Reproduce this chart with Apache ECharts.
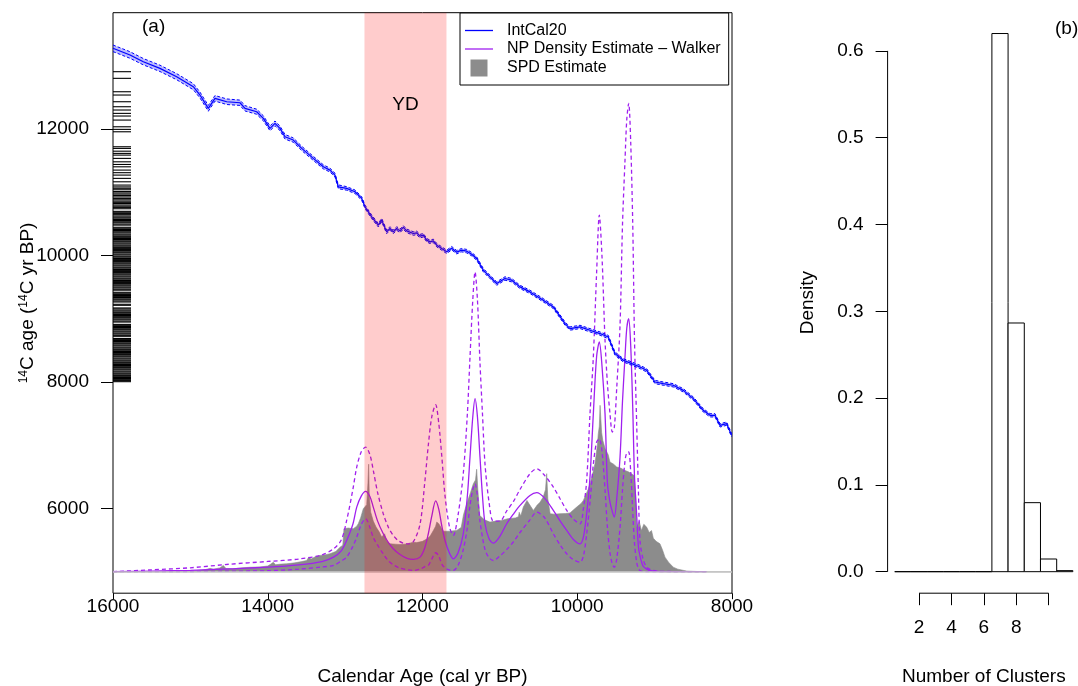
<!DOCTYPE html>
<html><head><meta charset="utf-8">
<script src="https://cdn.jsdelivr.net/npm/echarts@6/dist/echarts.min.js"></script>
<style>html,body{margin:0;padding:0;background:#fff}#c{width:1078px;height:686px}</style>
</head><body><div id="c"></div>
<script>
// ---------- Panel (a) data ----------
const calAge = [16000,15780,15608,15393,15177,14962,14876,14768,14682,14530,14359,14294,14143,14057,13971,13906,13842,13777,13670,13561,13411,13282,13196,13131,13088,12980,12872,12786,12743,12657,12571,12527,12463,12420,12377,12334,12291,12248,12204,12119,12075,12032,11989,11946,11903,11860,11816,11752,11687,11623,11558,11494,11429,11364,11300,11214,11128,11041,10934,10847,10740,10611,10439,10309,10158,10094,9964,9835,9706,9599,9512,9405,9296,9189,9103,8995,8888,8759,8629,8500,8371,8284,8220,8155,8069,8004];
const c14Age = [13277,13171,13065,12960,12828,12670,12538,12328,12486,12432,12416,12328,12274,12170,12011,12090,12011,11878,11826,11694,11536,11403,11351,11272,11087,11061,11008,10903,10770,10612,10480,10560,10374,10428,10374,10428,10390,10444,10390,10348,10358,10306,10322,10243,10216,10232,10164,10111,10058,10116,10053,10085,10069,10021,9953,9768,9662,9557,9637,9610,9504,9425,9293,9187,8924,8845,8871,8818,8766,8712,8449,8343,8291,8238,8185,8000,7974,7948,7868,7737,7552,7473,7473,7314,7341,7156];
const c14Sigma = [52,52,50,50,48,48,46,46,44,44,42,42,40,40,38,38,36,36,34,34,32,32,30,30,30,28,28,28,28,28,28,28,28,28,28,28,28,28,28,28,28,28,28,27,27,27,27,27,27,27,27,27,27,27,27,27,27,27,27,27,26,26,26,26,26,26,26,26,26,26,26,26,26,26,26,26,26,26,26,26,26,26,26,26,26,26];

const npYear  = [16000,15500,15000,14500,14000,13600,13300,13150,13050,12980,12900,12850,12790,12735,12680,12636,12580,12507,12440,12378,12300,12200,12120,12032,11970,11925,11880,11830,11790,11750,11709,11650,11602,11540,11473,11420,11386,11350,11321,11290,11257,11225,11192,11140,11085,11000,10912,10820,10740,10611,10524,10420,10309,10220,10136,10050,9964,9920,9878,9835,9792,9750,9715,9680,9641,9610,9577,9547,9521,9490,9447,9415,9383,9360,9335,9310,9283,9260,9232,9210,9189,9150,9103,9050,8973,8800,8600,8330];
const npMean  = [5000,5010,5022,5045,5072,5108,5160,5230,5330,5494,5750,6022,6200,6270,6190,6022,5800,5600,5460,5364,5280,5210,5195,5230,5380,5600,5880,6120,5990,5720,5494,5290,5204,5300,5600,6200,6813,7450,7737,7450,6813,6200,5758,5520,5451,5560,5758,5920,6048,6206,6249,6160,5969,5800,5652,5510,5441,5550,5917,6500,7500,8400,8633,8250,7500,6400,6100,5950,5864,6150,6813,7700,8396,8850,9003,8600,7600,6500,5900,5400,5250,5090,5040,5015,5005,5001,5000,5000];
const npUpper = [5000,5030,5062,5118,5162,5200,5265,5363,5500,5810,6300,6655,6900,6971,6850,6602,6250,5917,5700,5573,5480,5441,5470,5750,6420,7000,7450,7640,7350,6813,6200,5700,5573,5900,6550,7500,8396,9300,9741,9300,8300,7500,6700,6100,5800,5800,5960,6120,6300,6550,6629,6520,6338,6150,5969,5830,5758,6000,6444,7500,8400,9720,10639,9980,8660,7974,7500,7209,7280,7900,8900,10500,11500,12150,12407,11826,10507,8660,7341,6300,5494,5200,5071,5030,5010,5003,5000,5000];
const npLower = [5000,5000,5003,5008,5016,5040,5075,5100,5170,5230,5400,5547,5750,5838,5700,5540,5420,5280,5170,5110,5060,5030,5020,5040,5080,5100,5200,5300,5250,5120,5060,5025,5020,5100,5350,5700,6050,6300,6391,6200,5800,5547,5350,5220,5177,5250,5350,5480,5620,5820,5943,5850,5600,5420,5283,5190,5150,5250,5600,6100,6700,7050,7100,6900,6300,5700,5300,5120,5071,5200,5700,6300,6750,6880,6894,6600,5950,5450,5150,5050,5020,5005,5000,5000,5000,5000,5000,5000];

const spdYear  = [16000,15200,15000,14900,14800,14746,14700,14620,14574,14540,14450,14350,14229,14100,14000,13960,13928,13900,13830,13755,13650,13560,13497,13470,13440,13380,13325,13250,13196,13120,13066,13030,13015,12960,12894,12850,12830,12800,12765,12740,12721,12705,12696,12688,12670,12636,12600,12560,12527,12490,12460,12420,12350,12291,12200,12119,12075,12000,11940,11903,11860,11830,11816,11790,11760,11730,11709,11650,11558,11500,11470,11429,11380,11343,11315,11300,11285,11260,11200,11128,11050,10980,10900,10800,10760,10750,10730,10697,10650,10600,10567,10520,10481,10440,10410,10395,10380,10350,10300,10223,10150,10094,10007,9950,9921,9860,9835,9790,9771,9740,9728,9715,9705,9697,9685,9670,9640,9600,9577,9530,9490,9440,9383,9340,9300,9265,9245,9232,9200,9170,9140,9103,9070,9040,9017,8980,8931,8900,8866,8820,8759,8700,8586,8450,8300,8000];
const spdLevel = [5000,5000,5008,5020,5035,5053,5040,5060,5100,5050,5045,5060,5070,5075,5090,5120,5150,5110,5120,5125,5140,5160,5177,5230,5200,5240,5257,5270,5283,5320,5388,5420,5680,5690,5680,5720,5758,5850,5996,5990,6060,6400,6700,6200,5944,5800,5705,5630,5547,5600,5480,5441,5435,5430,5440,5467,5460,5480,5520,5560,5650,5720,5784,5760,5700,5640,5625,5640,5652,5700,5900,6075,6250,6391,6450,6620,6300,5890,5820,5784,5800,5810,5838,5850,5870,5940,5880,6022,6127,6030,5969,6050,6100,6180,6300,6550,6150,5917,5910,5917,5920,5930,6022,6080,6127,6300,6391,6600,6708,7000,7183,7300,7631,7604,7200,7077,6950,6850,6734,6700,6655,6640,6602,6580,6550,6520,6200,5705,5800,5650,5750,5705,5620,5650,5530,5480,5441,5350,5230,5150,5071,5040,5010,5003,5000,5000];

const rugC14 = [12907,12802,12590,12538,12432,12353,12301,12248,12206,12142,12036,11995,11957,11720,11694,11650,11615,11588,11536,11482,11440,11403,11351,11310,11272,11220,11166,11114,
11085,11063,11040,11012,10990,10971,10948,10926,10903,10881,10860,10841,10822,10799,10780,10761,10740,10699,10684,10663,10646,10625,10607,10591,10570,10553,10534,10518,10497,10481,10447,10431,10411,10396,10376,10359,10339,10323,10304,10288,10269,10253,10233,10218,10199,10183,10164,10148,10129,10113,10094,10078,10059,10044,10024,10009,9989,9974,9954,9939,9920,9904,9885,9869,9850,9835,9815,9800,9780,9765,9746,9730,9711,9695,9676,9661,9641,9626,9606,9591,9572,9556,9537,9521,9502,9487,9467,9452,9419,9404,9385,9369,9350,9335,9315,9300,9281,9265,9229,9213,9171,9156,9137,9121,9102,9087,9067,9052,9033,9017,8998,8983,8963,8948,8911,8896,8877,8861,8842,8827,8807,8792,8773,8758,8738,8723,8689,8674,8655,8640,8620,8605,8586,8571,8551,8536,8517,8502,8483,8467,8448,8433,8414,8399,8379,8364,8345,8330,8311,8296,8276,8261,8242,8227,8208,8193,8173,8158,8139,8124,8105,8090,8071,8056,8037,8022,8005];

const ydStart = 12750, ydEnd = 11690;
const xTicksA = [16000,14000,12000,10000,8000];
const yTicksA = [6000,8000,10000,12000];
const spdBase = 5000;

// ---------- Panel (b) data ----------
const clusterBreaks = [0.5,1.5,2.5,3.5,4.5,5.5,6.5,7.5,8.5,9.5,10.5,11.5];
const clusterDensity = [0,0,0,0,0,0,0.620,0.2865,0.0795,0.0146,0.0012];
const xTicksB = [2,4,6,8,10];
const xLabelsB = [2,4,6,8];
const yTicksB = [0,0.1,0.2,0.3,0.4,0.5,0.6];

// ---------- styles ----------
const FONT = 'Liberation Sans, Arial, Helvetica, sans-serif';
const BLUE = '#0000ff', PURPLE = '#a020f0', GREY = '#8c8c8c';
const aMin = 4660, aMax = 13840, calMin = 8000, calMax = 16000;
const bxMin = 0.06, bxMax = 11.94, byMin = -0.0248, byMax = 0.6448;

const zip = (a, b) => a.map((v, i) => [v, b[i]]);
const linePath = 'path://M0,0H28V1.3H0Z';
const sqPath = 'path://M0,0H10V10H0Z';
const plain = v => String(v);

const chart = echarts.init(document.getElementById('c'), null, {renderer: 'canvas'});
chart.setOption({
  animation: false,
  backgroundColor: '#fff',
  textStyle: {fontFamily: FONT},
  grid: [
    {left: 113, top: 12.7, width: 619, height: 580.5, show: true, borderColor: '#000', borderWidth: 1,
     backgroundColor: 'transparent', containLabel: false, outerBoundsMode: 'none'},
    {left: 887.6, top: 12, width: 192.4, height: 581.2, show: false, containLabel: false, outerBoundsMode: 'none'}
  ],
  xAxis: [
    {gridIndex: 0, type: 'value', min: calMin, max: calMax, inverse: true,
     axisLine: {show: false, onZero: false}, splitLine: {show: false},
     axisTick: {show: true, length: 6, customValues: xTicksA, lineStyle: {color: '#000'}},
     axisLabel: {customValues: xTicksA, margin: 4, fontSize: 19, color: '#000', fontFamily: FONT, formatter: plain},
     name: 'Calendar Age (cal yr BP)', nameLocation: 'middle', nameGap: 74, nameMoveOverlap: false,
     nameTextStyle: {fontSize: 19, color: '#000', fontFamily: FONT}},
    {gridIndex: 1, type: 'value', min: bxMin, max: bxMax,
     axisLine: {show: false, onZero: false}, splitLine: {show: false},
     axisTick: {show: true, length: 12, customValues: xTicksB, lineStyle: {color: '#000'}},
     axisLabel: {customValues: xLabelsB, margin: 25, fontSize: 19, color: '#000', fontFamily: FONT, formatter: plain},
     name: 'Number of Clusters', nameLocation: 'middle', nameGap: 74, nameMoveOverlap: false,
     nameTextStyle: {fontSize: 19, color: '#000', fontFamily: FONT}}
  ],
  yAxis: [
    {gridIndex: 0, type: 'value', min: aMin, max: aMax,
     axisLine: {show: false, onZero: false}, splitLine: {show: false},
     axisTick: {show: true, length: 12, customValues: yTicksA, lineStyle: {color: '#000'}},
     axisLabel: {customValues: yTicksA, margin: 24, fontSize: 19, color: '#000', fontFamily: FONT, formatter: plain},
     name: '{sup|14}C age ({sup|14}C yr BP)', nameLocation: 'middle', nameGap: 76, nameRotate: 90, nameMoveOverlap: false,
     nameTextStyle: {fontSize: 19, color: '#000', fontFamily: FONT,
       rich: {sup: {fontSize: 12, verticalAlign: 'top', lineHeight: 12, fontFamily: FONT, color: '#000'}}}},
    {gridIndex: 1, type: 'value', min: byMin, max: byMax,
     axisLine: {show: false, onZero: false}, splitLine: {show: false},
     axisTick: {show: true, length: 12, customValues: yTicksB, lineStyle: {color: '#000'}},
     axisLabel: {customValues: yTicksB, margin: 24, fontSize: 19, color: '#000', fontFamily: FONT,
       formatter: v => v.toFixed(1)},
     name: 'Density', nameLocation: 'middle', nameGap: 70, nameRotate: 90, nameMoveOverlap: false,
     nameTextStyle: {fontSize: 19, color: '#000', fontFamily: FONT}}
  ],
  legend: {
    left: 460, top: 13, orient: 'vertical', selectedMode: false, z: 20,
    itemWidth: 28, itemHeight: 17, itemGap: 2.5,
    padding: [9.5, 8, 8.5, 5],
    borderColor: '#000', borderWidth: 1, backgroundColor: '#fff',
    textStyle: {fontSize: 16, color: '#000', fontFamily: FONT, padding: [0, 0, 0, 9]},
    data: [
      {name: 'IntCal20', icon: linePath, itemStyle: {color: BLUE}},
      {name: 'NP Density Estimate – Walker', icon: linePath, itemStyle: {color: PURPLE}},
      {name: 'SPD Estimate', icon: sqPath, itemStyle: {color: GREY}}
    ]
  },
  graphic: [
    {type: 'text', left: 142, top: 17, style: {text: '(a)', fontSize: 19, fontFamily: FONT, fill: '#000'}},
    {type: 'text', left: 1055, top: 19, style: {text: '(b)', fontSize: 19, fontFamily: FONT, fill: '#000'}}
  ],
  series: [
    {name: 'SPD Estimate', type: 'line', xAxisIndex: 0, yAxisIndex: 0, z: 1,
     data: zip(spdYear, spdLevel), symbol: 'none', color: GREY, itemStyle: {color: GREY},
     lineStyle: {width: 0.6, color: GREY}, areaStyle: {color: GREY, opacity: 1, origin: spdBase},
     markLine: {silent: true, symbol: 'none', label: {show: false},
       lineStyle: {color: '#c4c4c4', width: 1.5, type: 'solid'}, data: [{yAxis: spdBase}]}},
    {name: 'npUpper', type: 'line', xAxisIndex: 0, yAxisIndex: 0, z: 2, data: zip(npYear, npUpper),
     symbol: 'none', smooth: 0.3, lineStyle: {color: PURPLE, width: 1.3, type: [4, 3]}},
    {name: 'npLower', type: 'line', xAxisIndex: 0, yAxisIndex: 0, z: 2, data: zip(npYear, npLower),
     symbol: 'none', smooth: 0.3, lineStyle: {color: PURPLE, width: 1.3, type: [4, 3]}},
    {name: 'NP Density Estimate – Walker', type: 'line', xAxisIndex: 0, yAxisIndex: 0, z: 3,
     data: zip(npYear, npMean), symbol: 'none', smooth: 0.3, color: PURPLE, itemStyle: {color: PURPLE},
     lineStyle: {color: PURPLE, width: 1.3}},
    {name: 'intcalBand', type: 'custom', xAxisIndex: 0, yAxisIndex: 0, z: 4,
     data: [[calAge[0], c14Age[0]]],
     renderItem: (params, api) => {
       const up = calAge.map((x, i) => api.coord([x, c14Age[i] + c14Sigma[i]]));
       const lo = calAge.map((x, i) => api.coord([x, c14Age[i] - c14Sigma[i]])).reverse();
       return {type: 'polygon', shape: {points: up.concat(lo)}, style: {fill: 'rgba(60,60,255,0.35)', stroke: null}};
     }},
    {name: 'intcalUpper', type: 'line', xAxisIndex: 0, yAxisIndex: 0, z: 5, symbol: 'none',
     data: calAge.map((x, i) => [x, c14Age[i] + c14Sigma[i]]), lineStyle: {color: BLUE, width: 1, type: [3, 2]}},
    {name: 'intcalLower', type: 'line', xAxisIndex: 0, yAxisIndex: 0, z: 5, symbol: 'none',
     data: calAge.map((x, i) => [x, c14Age[i] - c14Sigma[i]]), lineStyle: {color: BLUE, width: 1, type: [3, 2]}},
    {name: 'IntCal20', type: 'line', xAxisIndex: 0, yAxisIndex: 0, z: 6, symbol: 'none',
     data: zip(calAge, c14Age), color: BLUE, itemStyle: {color: BLUE}, lineStyle: {color: BLUE, width: 1.2}},
    {name: 'rug', type: 'custom', xAxisIndex: 0, yAxisIndex: 0, z: 7,
     data: rugC14.map(v => [calMax, v]),
     renderItem: (params, api) => {
       const p = api.coord([api.value(0), api.value(1)]);
       return {type: 'line', shape: {x1: p[0], y1: p[1], x2: p[0] + 18, y2: p[1]}, style: {stroke: '#000', lineWidth: 1.1}};
     }},
    {name: 'YD', type: 'custom', xAxisIndex: 0, yAxisIndex: 0, z: 10,
     data: [[ydStart, ydEnd]],
     renderItem: (params, api) => {
       const p1 = api.coord([api.value(0), aMax]);
       const p2 = api.coord([api.value(1), aMin]);
       const x = Math.min(p1[0], p2[0]), w = Math.abs(p2[0] - p1[0]);
       const y = Math.min(p1[1], p2[1]), h = Math.abs(p2[1] - p1[1]);
       return {type: 'group', children: [
         {type: 'rect', shape: {x, y, width: w, height: h}, style: {fill: 'rgba(255,0,0,0.2)'}},
         {type: 'text', x: x + w / 2, y: y + 92, style: {text: 'YD', fontSize: 19, fontFamily: FONT, fill: '#000', align: 'center', verticalAlign: 'middle'}}
       ]};
     }},
    // ---------- panel (b) ----------
    {name: 'clusters', type: 'custom', xAxisIndex: 1, yAxisIndex: 1, z: 2,
     data: clusterDensity.map((d, i) => [clusterBreaks[i], clusterBreaks[i + 1], d]),
     encode: {x: [0, 1], y: 2},
     renderItem: (params, api) => {
       const p1 = api.coord([api.value(0), api.value(2)]);
       const p2 = api.coord([api.value(1), 0]);
       return {type: 'rect', shape: {x: p1[0], y: p1[1], width: p2[0] - p1[0], height: p2[1] - p1[1]},
         style: {fill: '#fff', stroke: '#000', lineWidth: 1}};
     }},
    {name: 'axesB', type: 'custom', xAxisIndex: 1, yAxisIndex: 1, z: 3, clip: false,
     data: [[0, 0]],
     renderItem: (params, api) => {
       const y0 = api.coord([bxMin, yTicksB[0]]), y1 = api.coord([bxMin, yTicksB[yTicksB.length - 1]]);
       const x0 = api.coord([xTicksB[0], byMin]), x1 = api.coord([xTicksB[xTicksB.length - 1], byMin]);
       return {type: 'group', children: [
         {type: 'line', shape: {x1: y0[0], y1: y0[1], x2: y1[0], y2: y1[1]}, style: {stroke: '#000', lineWidth: 1}},
         {type: 'line', shape: {x1: x0[0], y1: x0[1], x2: x1[0], y2: x1[1]}, style: {stroke: '#000', lineWidth: 1}}
       ]};
     }}
  ]
});
</script></body></html>
